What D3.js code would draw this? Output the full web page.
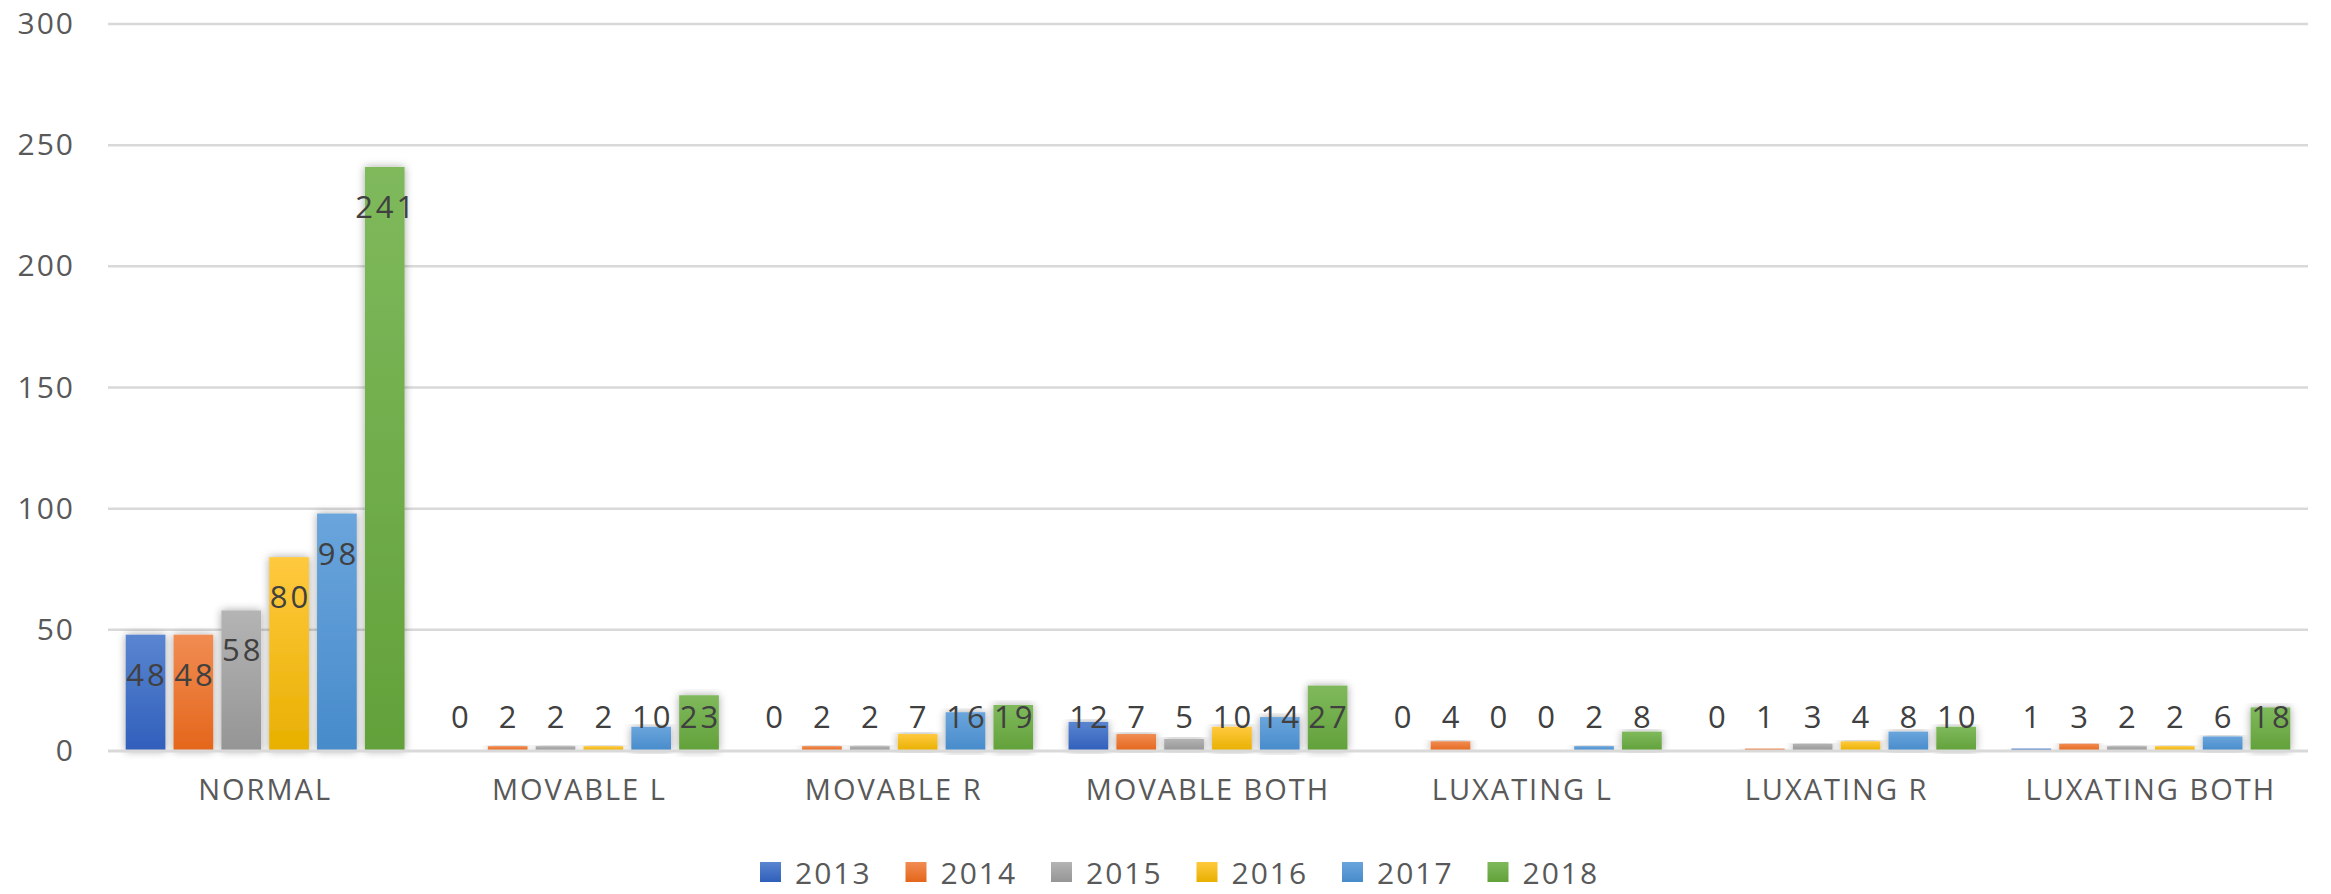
<!DOCTYPE html>
<html>
<head>
<meta charset="utf-8">
<script src="https://cdn.jsdelivr.net/npm/d3@7"></script>
<style>
  body { margin: 0; background: #fff; }
  text { font-family: "Open Sans", sans-serif; letter-spacing: 2px; }
</style>
</head>
<body>
<div id="chart"></div>
<script>
// categories and yearly series
const categories = ['NORMAL', 'MOVABLE L', 'MOVABLE R', 'MOVABLE BOTH', 'LUXATING L', 'LUXATING R', 'LUXATING BOTH'];
const years = ['2013', '2014', '2015', '2016', '2017', '2018'];
const v2013 = [48, 0, 0, 12, 0, 0, 1];
const v2014 = [48, 2, 2, 7, 4, 1, 3];
const v2015 = [58, 2, 2, 5, 0, 3, 2];
const v2016 = [80, 2, 7, 10, 0, 4, 2];
const v2017 = [98, 10, 16, 14, 2, 8, 6];
const v2018 = [241, 23, 19, 27, 8, 10, 18];
const yTicks = [0, 50, 100, 150, 200, 250, 300];

const series = [v2013, v2014, v2015, v2016, v2017, v2018];

// office palette, top/bottom of the gradient
const colors = {
  '2013': ['#5a85d0', '#305fbb'],
  '2014': ['#f18c52', '#e4661b'],
  '2015': ['#b4b4b4', '#959595'],
  '2016': ['#ffc93f', '#e8b000'],
  '2017': ['#6aa5dc', '#478bcb'],
  '2018': ['#7fb95c', '#62a13a']
};

const width = 2331;
const height = 894;
const margin = { top: 24, right: 23, bottom: 143, left: 108 };

const svg = d3.select('#chart')
  .append('svg')
  .attr('width', width)
  .attr('height', height);

const defs = svg.append('defs');

years.forEach(yr => {
  const g = defs.append('linearGradient')
    .attr('id', 'grad' + yr)
    .attr('x1', 0).attr('y1', 0).attr('x2', 0).attr('y2', 1);
  g.append('stop').attr('offset', '0%').attr('stop-color', colors[yr][0]);
  g.append('stop').attr('offset', '100%').attr('stop-color', colors[yr][1]);
});

const shadow = defs.append('filter')
  .attr('id', 'shadow')
  .attr('x', '-30%').attr('y', '-10%')
  .attr('width', '160%').attr('height', '120%');
shadow.append('feDropShadow')
  .attr('dx', 0).attr('dy', 0)
  .attr('stdDeviation', 4)
  .attr('flood-color', '#000')
  .attr('flood-opacity', 0.35);

const y = d3.scaleLinear()
  .domain([0, 300])
  .range([height - margin.bottom, margin.top]);

const x0 = d3.scaleBand()
  .domain(categories)
  .range([margin.left, width - margin.right])
  .padding(0);

const x1 = d3.scaleBand()
  .domain(years)
  .range([0, x0.bandwidth()])
  .paddingInner(0.17)
  .paddingOuter(0.37);

// gridlines
svg.append('g')
  .selectAll('line')
  .data(yTicks.filter(t => t > 0))
  .enter()
  .append('line')
  .attr('x1', margin.left)
  .attr('x2', width - margin.right)
  .attr('y1', d => y(d))
  .attr('y2', d => y(d))
  .attr('stroke', '#d9d9d9')
  .attr('stroke-width', 2.5);

// y axis labels
const yAxis = d3.axisLeft(y).tickValues(yTicks).tickSize(0).tickPadding(33);
const yAxisGroup = svg.append('g')
  .attr('transform', `translate(${margin.left},0)`)
  .call(yAxis);
yAxisGroup.select('.domain').remove();
yAxisGroup.selectAll('text')
  .style('font-size', '30px')
  .attr('fill', '#595959');

// bars
const groups = svg.append('g')
  .selectAll('g')
  .data(categories)
  .enter()
  .append('g')
  .attr('transform', d => `translate(${x0(d)},0)`);

const cells = (d, i) => years.map((yr, k) => ({ yr, v: series[k][i] }));

groups.selectAll('rect')
  .data(cells)
  .enter()
  .append('rect')
  .attr('x', d => x1(d.yr))
  .attr('width', x1.bandwidth())
  .attr('y', d => y(d.v))
  .attr('height', d => y(0) - y(d.v))
  .attr('fill', d => 'url(#grad' + d.yr + ')')
  .attr('filter', d => d.v > 0 ? 'url(#shadow)' : null);

// baseline
svg.append('line')
  .attr('x1', margin.left)
  .attr('x2', width - margin.right)
  .attr('y1', y(0))
  .attr('y2', y(0))
  .attr('stroke', '#d9d9d9')
  .attr('stroke-width', 3);

// data labels, inside end, kept above the base for short bars
groups.selectAll('text.val')
  .data(cells)
  .enter()
  .append('text')
  .attr('class', 'val')
  .attr('x', d => x1(d.yr) + x1.bandwidth() / 2 + 1.5)
  .attr('y', d => Math.min(y(d.v) + 39, y(0) - 35))
  .attr('text-anchor', 'middle')
  .attr('dominant-baseline', 'central')
  .style('font-size', '31px')
  .style('letter-spacing', '3px')
  .attr('fill', '#404040')
  .text(d => d.v);

// x axis labels
const xAxis = d3.axisBottom(x0).tickSize(0).tickPadding(28);
const xAxisGroup = svg.append('g')
  .attr('transform', `translate(0,${y(0)})`)
  .call(xAxis);
xAxisGroup.select('.domain').remove();
xAxisGroup.selectAll('text')
  .style('font-size', '29px')
  .attr('fill', '#595959');

// legend
const legendX = 760;
const legendStep = 145.5;
const legendY = 872;
const legend = svg.append('g')
  .selectAll('g')
  .data(years)
  .enter()
  .append('g')
  .attr('transform', (d, i) => `translate(${legendX + i * legendStep},${legendY})`);

legend.append('rect')
  .attr('x', 0)
  .attr('y', -10)
  .attr('width', 21)
  .attr('height', 20)
  .attr('fill', d => 'url(#grad' + d + ')');

legend.append('text')
  .attr('x', 35)
  .attr('y', 0)
  .attr('dominant-baseline', 'central')
  .style('font-size', '30px')
  .attr('fill', '#595959')
  .text(d => d);
</script>
</body>
</html>
